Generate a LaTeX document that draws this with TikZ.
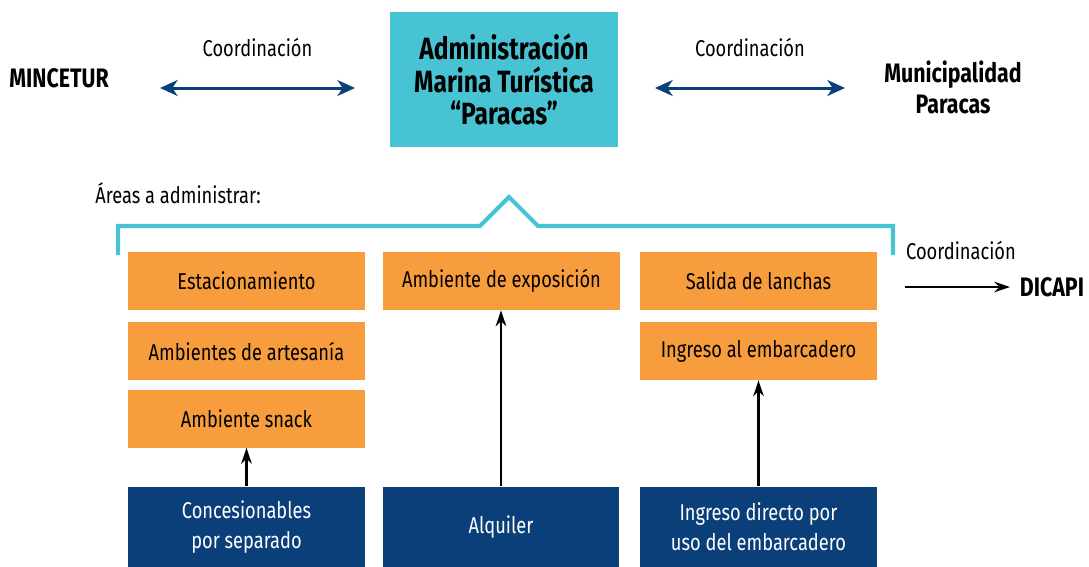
\documentclass[tikz,border=0pt]{standalone}
\usepackage{fontspec}
\setmainfont{Fira Sans}[FakeStretch=0.8]
\usetikzlibrary{arrows.meta}
\definecolor{cian}{HTML}{48C3D3}
\definecolor{naranja}{HTML}{F89D3D}
\definecolor{azul}{HTML}{0A3F7A}
\tikzset{
  texto/.style={font=\fontsize{13}{17}\selectfont, inner sep=0pt, align=center},
  titulo/.style={texto, font=\fontsize{15.2}{17.5}\selectfont\bfseries},
  area/.style={texto, fill=naranja, minimum width=4.74cm, minimum height=1.16cm},
  fuente/.style={texto, fill=azul, text=white, minimum width=4.74cm, minimum height=1.62cm},
  flecha/.style={line width=1.3pt, >={Stealth[length=9pt,width=6pt]}},
  doble/.style={azul, line width=1.7pt, >={Stealth[length=10pt,width=9pt,inset=3pt]}},
}
\begin{document}
\begin{tikzpicture}[x=0.02cm, y=-0.02cm]
            \useasboundingbox (0,0) rectangle (1089,566);

            \node[titulo, fill=cian, minimum width=4.56cm, minimum height=2.7cm,
                  font=\fontsize{17.5}{18.3}\selectfont\bfseries] (AMT) at (504,79.5)
                  {Administración\\Marina Turística\\“Paracas”};
            \node[titulo] (MIN) at (59,78) {MINCETUR};
            \node[titulo] (MUN) at (953,87.5) {Municipalidad\\Paracas};
            \node[titulo] (DIC) at (1052,287) {DICAPI};

            \coordinate (L1) at (160,88); \coordinate (L2) at (355,88);
            \coordinate (R1) at (655,88); \coordinate (R2) at (845,88);
            \coordinate (D1) at (905,287); \coordinate (D2) at (1010,287);

            \draw[<->, doble] (L1) to node[texto, black, above=17pt] {Coordinación} (L2);
            \draw[<->, doble] (R1) to node[texto, black, above=17pt] {Coordinación} (R2);
            \draw[->, flecha] (D1) to node[texto, above=15pt, xshift=2pt] {Coordinación} (D2);

            \node[texto, anchor=west] (AREAS) at (95,193) {Áreas a administrar:};
            \draw[cian, line width=2.3pt] (118,255) -- (118,226) -- (480,226) -- (509,197)
                  -- (538,226) -- (893,226) -- (893,255);

            \node[area] (EST) at (246.5,281) {Estacionamiento};
            \node[area] (ART) at (246.5,351) {Ambientes de artesanía};
            \node[area] (SNA) at (246.5,418.5) {Ambiente snack};
            \node[area] (EXP) at (501.5,281) {Ambiente de exposición};
            \node[area] (LAN) at (758.5,281) {Salida de lanchas};
            \node[area] (EMB) at (758.5,351) {Ingreso al embarcadero};

            \node[fuente] (CON) at (246.5,527) {Concesionables\\por separado};
            \node[fuente] (ALQ) at (501,527) {Alquiler};
            \node[fuente] (ING) at (758.5,527) {Ingreso directo por\\uso del embarcadero};

            \draw[->, flecha] (CON) to (SNA);
            \draw[->, flecha] (ALQ) to (ALQ |- EXP.south);
            \draw[->, flecha] (ING) to (EMB);
        \end{tikzpicture}
\end{document}
